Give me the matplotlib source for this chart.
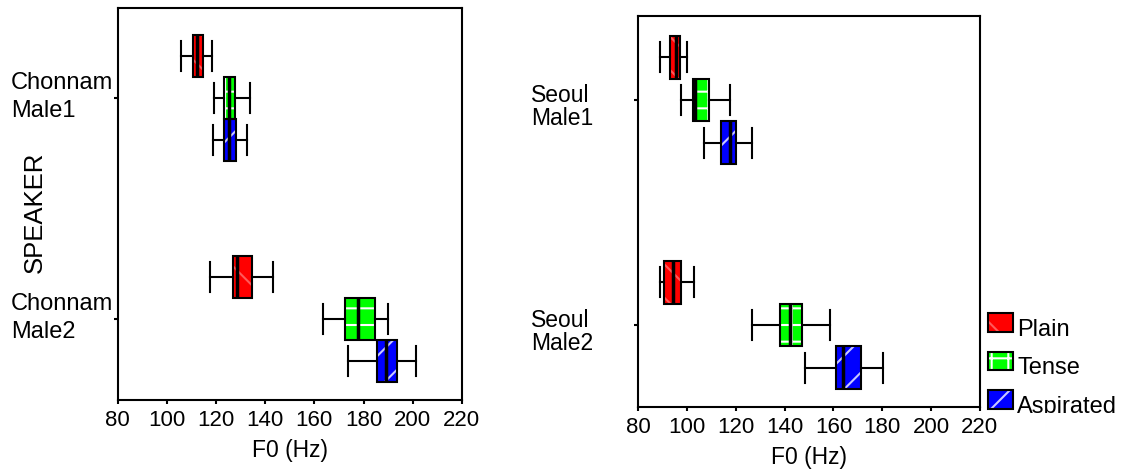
import numpy as np
import matplotlib
matplotlib.use('Agg')
import matplotlib.pyplot as plt
from matplotlib.patches import Rectangle, PathPatch
from matplotlib.transforms import blended_transform_factory, Bbox

plt.rcParams['font.family'] = ['Liberation Sans', 'DejaVu Sans']
plt.rcParams['hatch.linewidth'] = 1.5

# consonant types (legend) and their fills
categories = ['Plain', 'Tense', 'Aspirated']
fillcols = ['#ff0000', '#00ff00', '#0000ff']
hatches = ['\\', '+', '/']
hatchcols = ['#ff5a5a', '#ffffff', '#c8c8ff']

# F0 (Hz) per speaker and type: whisker low, Q1, median, Q3, whisker high
chonnam_speakers = ['Chonnam\nMale1', 'Chonnam\nMale2']
chonnam_male1 = [[105.7, 110.6, 112.1, 114.8, 118.5],
                 [119.1, 123.1, 125.4, 127.6, 133.9],
                 [118.7, 123.1, 125.2, 128.1, 132.8]]
chonnam_male2 = [[117.5, 127.1, 128.6, 134.7, 143.2],
                 [163.7, 172.4, 177.8, 184.5, 189.8],
                 [173.7, 185.4, 189.3, 193.8, 201.5]]

seoul_speakers = ['Seoul\nMale1', 'Seoul\nMale2']
seoul_male1 = [[88.7, 93.0, 95.5, 97.0, 99.9],
               [97.5, 102.4, 103.2, 109.0, 117.7],
               [106.8, 113.8, 117.6, 120.1, 126.6]]
seoul_male2 = [[89.0, 90.5, 94.4, 97.5, 102.8],
               [126.8, 138.0, 142.2, 147.2, 158.5],
               [148.5, 161.2, 163.9, 171.2, 180.4]]

xticks = [80, 100, 120, 140, 160, 180, 200, 220]


def draw_panel(ax, groups, ylims):
	bw = 0.19		# box height in category units, boxes of one speaker touch
	for i, grp in enumerate(groups):
		for j, vals in enumerate(grp):
			pos = i + 1 + (j - 1) * bw
			stats = [dict(whislo=vals[0], q1=vals[1], med=vals[2], q3=vals[3], whishi=vals[4], fliers=[])]
			bp = ax.bxp(stats, positions=[pos], widths=bw, orientation='horizontal',
				patch_artist=True, showfliers=False, capwidths=[bw * 0.7],
				boxprops=dict(facecolor=fillcols[j], edgecolor=hatchcols[j], hatch=hatches[j], linewidth=0, zorder=2),
				whiskerprops=dict(color='black', linewidth=1.5),
				capprops=dict(color='black', linewidth=1.5),
				medianprops=dict(color='black', linewidth=2.5, zorder=4))
			for box in bp['boxes']:
				ax.add_patch(PathPatch(box.get_path(), facecolor='none', edgecolor='black', linewidth=1.5, zorder=3.5))
	ax.set_xlim(80, 220)
	ax.set_xticks(xticks)
	ax.set_ylim(ylims)
	ax.set_yticks([1, 2])
	ax.set_yticklabels([])
	ax.tick_params(axis='both', direction='out', length=3, width=1.5, labelsize=16, pad=4)
	for sp in ax.spines.values():
		sp.set_linewidth(1.5)
	ax.set_xlabel('F0 (Hz)', fontsize=16.5, labelpad=6)


def plot_speakers():
	fig = plt.figure(figsize=(11.21, 4.73), dpi=100)
	ax1 = fig.add_axes([0.105, 0.154, 0.307, 0.829])
	ax2 = fig.add_axes([0.5694, 0.139, 0.3046, 0.828])

	draw_panel(ax1, [chonnam_male1, chonnam_male2], (2.367, 0.593))
	draw_panel(ax2, [seoul_male1, seoul_male2], (2.366, 0.625))

	#speaker names, left aligned outside the axes
	tr1 = blended_transform_factory(fig.transFigure, ax1.transData)
	for k, s in enumerate(chonnam_speakers):
		ax1.text(0.0098, k + 0.995, s, transform=tr1, ha='left', va='center', fontsize=17, linespacing=1.35)
	tr2 = blended_transform_factory(fig.transFigure, ax2.transData)
	for k, s in enumerate(seoul_speakers):
		ax2.text(0.4734, k + 1.03, s, transform=tr2, ha='left', va='center', fontsize=16.5, linespacing=1.0)
	fig.text(0.0308, 0.552, 'SPEAKER', rotation=90, ha='center', va='center', fontsize=18.5)

	#legend drawn by hand: hatched swatch, black outline, label cut at its baseline
	x0, w, h = 988 / 1121., 25 / 1121., 18.5 / 473.
	for j, name in enumerate(categories):
		ytop = 1 - (313.3 + j * 38.4) / 473.
		fig.add_artist(Rectangle((x0, ytop - h), w, h, transform=fig.transFigure,
			facecolor=fillcols[j], edgecolor=hatchcols[j], hatch=hatches[j], linewidth=0))
		fig.add_artist(Rectangle((x0, ytop - h), w, h, transform=fig.transFigure,
			facecolor='none', edgecolor='black', linewidth=1.5))
		ybase = 1 - (335.7 + j * 38.4) / 473.
		t = fig.text(1017.3 / 1121., ybase, name, ha='left', va='baseline', fontsize=17)
		t.set_clip_box(Bbox([[0, ybase * 473], [1121, 473]]))
		t.set_clip_on(True)

	plt.savefig('out.png', dpi=100)


if __name__ == "__main__":
	plot_speakers()
